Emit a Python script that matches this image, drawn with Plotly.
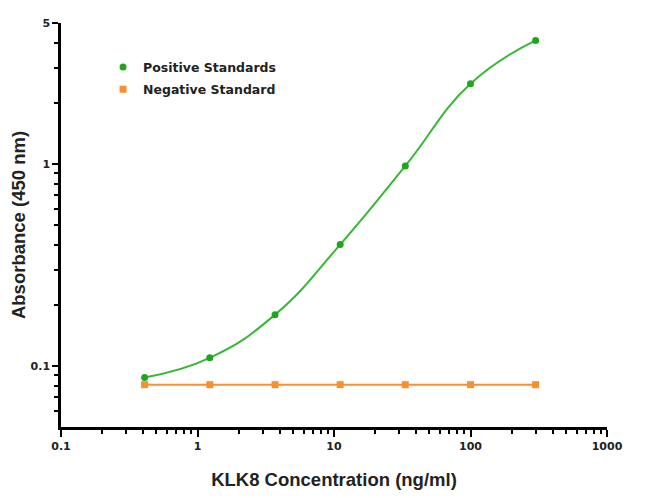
import plotly.graph_objects as go
import numpy as np

conc = [0.41, 1.23, 3.7, 11.1, 33.3, 100, 300]
positive = [0.088, 0.110, 0.180, 0.400, 0.98, 2.50, 4.10]
negative = [0.081, 0.081, 0.081, 0.081, 0.081, 0.081, 0.081]
x_ticks = [0.1, 1, 10, 100, 1000]
x_tick_labels = ["0.1", "1", "10", "100", "1000"]
y_ticks = [0.1, 1, 5]
y_tick_labels = ["0.1", "1", "5"]

green_line = "#35b835"
green_mark = "#1fa61f"
orange = "#f7902f"

fig = go.Figure()
fig.add_trace(go.Scatter(x=conc, y=positive, mode="lines",
                         line=dict(color=green_line, width=2, shape="spline", smoothing=1.3),
                         showlegend=False, hoverinfo="skip"))
fig.add_trace(go.Scatter(x=conc, y=negative, mode="lines", line=dict(color=orange, width=2),
                         showlegend=False, hoverinfo="skip"))
fig.add_trace(go.Scatter(x=conc, y=positive, mode="markers", name="Positive Standards", legendgroup="pos",
                         marker=dict(color=green_mark, size=7, symbol="circle")))
fig.add_trace(go.Scatter(x=conc, y=negative, mode="markers", name="Negative Standard", legendgroup="neg",
                         marker=dict(color=orange, size=7, symbol="square")))

x_minor = [m * 10.0 ** e for e in range(-1, 3) for m in range(2, 10)]
y_minor = [0.06, 0.07, 0.08, 0.09, 0.2, 0.3, 0.4, 0.5, 0.6, 0.7, 0.8, 0.9, 2, 3, 4]

tick_font = dict(family="DejaVu Sans", size=11, color="#222222", weight="bold")
title_font = dict(family="Arial, Liberation Sans, sans-serif", size=18.5, color="#222222", weight="bold")

fig.update_layout(
    width=634, height=482,
    margin=dict(l=53, r=35, t=15, b=63),
    paper_bgcolor="white", plot_bgcolor="white",
    font=dict(family="Arial, Liberation Sans, sans-serif", color="#222222", size=12),
    legend=dict(x=0.077, y=0.927, xanchor="left", yanchor="top", bgcolor="rgba(0,0,0,0)",
                font=dict(family="DejaVu Sans", size=12.5, color="#222222", weight="bold"),
                tracegroupgap=3),
    xaxis=dict(type="log", range=[-1, 3], tickvals=x_ticks, ticktext=x_tick_labels, automargin=False,
               showline=True, linecolor="black", linewidth=2.5, ticks="outside", ticklen=7,
               tickwidth=2, tickcolor="black", showgrid=False, zeroline=False,
               tickfont=tick_font,
               minor=dict(tickvals=x_minor, ticks="outside", ticklen=4, tickwidth=1.5, tickcolor="black", showgrid=False),
               title=dict(text="KLK8 Concentration (ng/ml)", font=title_font, standoff=23)),
    yaxis=dict(type="log", range=[np.log10(0.05), np.log10(5)], tickvals=y_ticks, ticktext=y_tick_labels,
               automargin=False,
               showline=True, linecolor="black", linewidth=2.5, ticks="outside", ticklen=6,
               tickwidth=2, tickcolor="black", showgrid=False, zeroline=False,
               tickfont=tick_font,
               minor=dict(tickvals=y_minor, ticks="outside", ticklen=4, tickwidth=1.5, tickcolor="black", showgrid=False),
               title=dict(text="Absorbance (450 nm)", font=title_font, standoff=4)),
)

fig.write_html("out.html")
